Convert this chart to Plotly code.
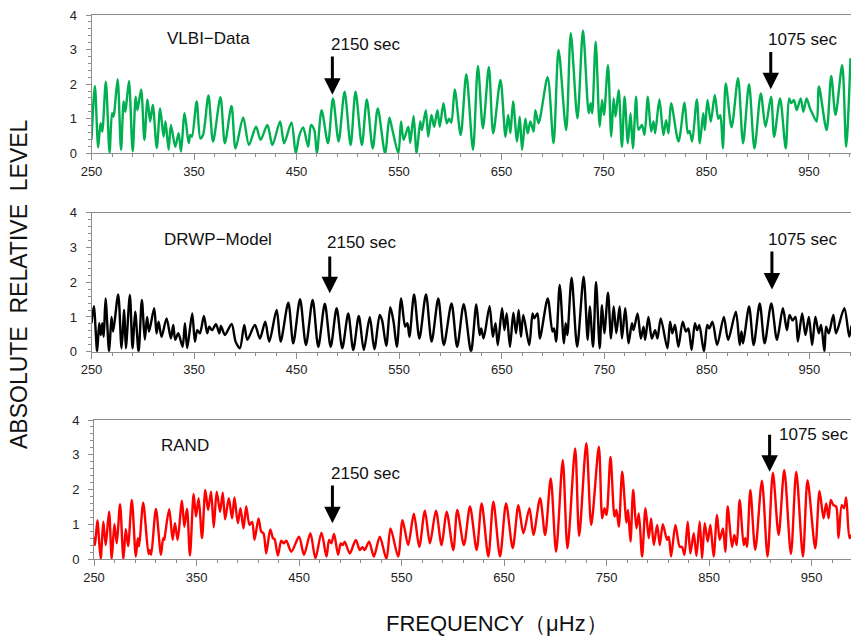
import plotly.graph_objects as go

# ---------------- data ----------------
vlbi_f = [250, 253.3, 256.5, 258.8, 260.5, 264.0, 267.6, 270.0, 271.2, 272.2, 275.5, 278.8, 281.4, 283.0, 284.3,
          286.6, 290.2, 293.1, 294.8, 298.4, 301.6, 304.6, 307.2, 309.8, 313.7, 317.0, 320.3, 322.2, 325.2, 327.5,
          331.7, 335.0, 337.3, 340.8, 344.8, 346.4, 348.0, 352.6, 356.2, 358.8, 364.1, 368.6, 375.8, 380.1, 386.6,
          390.5, 398.0, 403.6, 410.5, 415.0, 421.6, 426.5, 434.0, 437.9, 445.1, 449.3, 452.6, 456.5, 461.4, 464.1,
          467.3, 469.9, 474.5, 480.7, 485.6, 491.1, 496.9, 502.8, 507.6, 513.8, 518.6, 524.4, 529.3, 536.4, 540.6,
          542.9, 549.4, 552.0, 554.5, 559.1, 561.0, 564.2, 567.2, 570.7, 572.3, 576.2, 578.5, 581.7, 584.3, 587.5,
          589.8, 593.4, 596.6, 598.9, 601.1, 604.4, 610.2, 615.7, 622.2, 627.0, 631.9, 637.7, 641.9, 649.0, 653.9,
          656.5, 658.7, 661.3, 665.2, 667.8, 670.1, 673.3, 675.6, 678.2, 681.4, 683.0, 686.2, 695.0, 700.8, 705.7,
          713.1, 717.6, 724.1, 729.5, 735.1, 737.0, 738.5, 741.9, 745.8, 748.1, 750.0, 753.9, 757.1, 759.4, 761.3,
          764.3, 767.5, 770.1, 773.3, 775.9, 778.2, 781.4, 783.7, 787.0, 789.5, 792.8, 796.0, 798.3, 799.9, 804.1,
          808.0, 810.6, 812.9, 815.5, 822.7, 828.6, 831.8, 833.5, 836.0, 840.6, 843.5, 846.8, 848.4, 851.0, 854.2,
          858.1, 861.5, 863.5, 866.0, 868.8, 874.5, 880.8, 885.7, 891.5, 896.8, 903.0, 907.6, 913.0, 916.0, 921.8,
          927.3, 930.6, 932.8, 935.4, 938.0, 941.9, 944.5, 947.7, 951.0, 953.2, 957.5, 959.7, 967.2, 971.7, 975.9,
          982.4, 986.3, 990.5]
vlbi_v = [0.39, 1.95, 0.17, 0.87, 0.63, 2.07, 0.02, 1.16, 1.06, 1.18, 2.14, 0.10, 1.50, 1.20, 1.50,
          2.09, 0.05, 1.64, 1.25, 1.85, 0.39, 1.56, 0.92, 1.40, 0.15, 1.30, 0.48, 0.92, 0.10, 0.82,
          0.19, 0.58, 0.05, 1.16, 0.29, 0.53, 0.48, 1.50, 0.43, 0.53, 1.67, 0.34, 1.62, 0.29, 1.37,
          0.14, 1.04, 0.24, 0.77, 0.39, 0.82, 0.24, 0.92, 0.29, 0.89, 0.00, 0.50, 0.75, 0.19, 0.82,
          0.68, 0.00, 1.25, 0.29, 1.59, 0.34, 1.78, 0.24, 1.78, 0.24, 1.56, 0.14, 1.30, 0.00, 1.03,
          0.77, 0.00, 0.92, 0.39, 0.77, 0.30, 1.08, 0.00, 0.92, 0.67, 1.25, 0.48, 1.11, 0.77, 1.25,
          0.77, 1.45, 0.87, 1.00, 0.89, 1.85, 0.53, 2.29, 0.10, 2.53, 0.72, 2.50, 0.58, 2.12, 0.48,
          1.11, 0.58, 1.50, 0.34, 1.06, 0.10, 1.00, 0.58, 0.92, 0.63, 1.25, 0.87, 2.20, 0.29, 2.99,
          0.67, 3.47, 1.01, 3.55, 1.16, 1.45, 1.16, 3.23, 0.77, 1.54, 1.11, 2.55, 0.48, 1.59, 1.06,
          1.83, 0.19, 1.64, 0.29, 1.16, 0.14, 1.64, 0.68, 0.82, 0.53, 1.64, 0.63, 0.92, 0.58, 1.56,
          0.53, 0.96, 0.58, 1.45, 0.34, 1.46, 0.58, 0.65, 0.34, 1.56, 0.29, 1.16, 0.67, 1.54, 0.91,
          1.69, 1.00, 1.10, 0.14, 2.02, 0.75, 2.17, 0.29, 2.00, 0.14, 1.73, 0.77, 1.64, 0.48, 1.59,
          0.14, 1.59, 1.45, 1.54, 1.25, 1.59, 1.20, 1.59, 1.30, 1.16, 0.92, 1.93, 0.67, 2.24, 1.11,
          2.55, 0.19, 2.75]

drwp_f = [250, 252.3, 255.5, 257.5, 259.1, 260.5, 261.9, 263.7, 267.2, 269.5, 271.1, 276.0, 279.3, 281.9, 283.5,
          287.4, 290.0, 292.6, 295.9, 299.1, 302.0, 304.2, 306.1, 311.1, 313.4, 315.4, 318.3, 323.2, 327.4, 329.7,
          331.6, 334.6, 338.8, 341.1, 343.3, 348.2, 350.8, 353.1, 355.7, 359.6, 362.8, 364.8, 367.5, 371.3, 374.6,
          376.2, 380.1, 386.6, 390.5, 394.7, 398.9, 401.9, 409.3, 414.2, 419.4, 423.3, 430.5, 434.4, 441.9, 446.7,
          453.3, 459.1, 465.6, 471.1, 477.5, 483.2, 489.0, 494.5, 500.3, 505.2, 510.6, 515.5, 521.3, 525.8, 531.0,
          533.3, 537.4, 541.3, 544.5, 547.7, 551.9, 555.8, 558.0, 560.0, 564.5, 569.7, 576.1, 581.6, 588.1, 593.5,
          601.0, 606.5, 612.9, 620.0, 625.2, 628.4, 630.0, 632.3, 638.1, 641.3, 643.9, 646.1, 650.3, 652.6, 654.8,
          658.0, 661.3, 663.9, 666.5, 668.7, 671.0, 676.8, 680.0, 681.6, 684.8, 687.1, 694.8, 699.4, 701.0, 703.0,
          706.5, 710.6, 712.3, 713.9, 718.1, 723.5, 729.8, 733.8, 735.8, 739.0, 741.9, 745.5, 747.7, 750.0, 753.6,
          756.5, 759.1, 761.7, 764.9, 767.2, 770.4, 773.6, 776.9, 778.5, 782.4, 785.6, 788.2, 789.8, 793.0, 796.3,
          799.5, 801.8, 805.0, 811.5, 814.1, 816.3, 818.9, 822.2, 826.4, 829.6, 831.9, 835.1, 838.3, 840.5, 842.6,
          847.1, 850.3, 852.2, 855.5, 860.0, 866.5, 870.7, 878.2, 882.0, 883.7, 885.3, 891.1, 895.6, 901.5, 906.3,
          912.8, 918.3, 924.1, 928.0, 930.6, 933.5, 936.4, 938.7, 942.9, 946.1, 949.4, 952.6, 955.8, 959.1, 961.3,
          964.6, 966.2, 968.8, 973.3, 975.9, 984.0, 988.8, 991.0]
drwp_v = [0.82, 1.31, 0.00, 0.82, 0.48, 0.82, 0.43, 1.53, 0.00, 1.00, 0.58, 1.65, 0.10, 1.20, 0.10,
          1.63, 0.10, 1.15, 0.00, 1.49, 0.35, 1.00, 0.58, 1.25, 0.53, 0.86, 0.43, 0.96, 0.38, 0.77,
          0.34, 0.53, 0.14, 0.82, 0.10, 1.10, 0.29, 0.62, 0.53, 1.03, 0.53, 0.72, 0.62, 0.79, 0.53,
          0.74, 0.48, 0.80, 0.29, 0.10, 0.77, 0.34, 0.77, 0.38, 0.86, 0.29, 1.20, 0.29, 1.41, 0.24,
          1.51, 0.19, 1.49, 0.14, 1.38, 0.14, 1.25, 0.10, 1.10, 0.05, 1.03, 0.05, 0.99, 0.07, 1.06,
          0.91, 0.17, 1.28, 0.86, 0.14, 1.53, 0.72, 0.82, 0.43, 1.65, 0.38, 1.65, 0.29, 1.53, 0.19,
          1.39, 0.14, 1.37, 0.00, 1.36, 0.48, 0.67, 0.38, 1.31, 0.43, 0.82, 0.19, 1.25, 0.62, 1.10,
          0.14, 1.12, 0.53, 1.20, 0.43, 1.06, 0.19, 1.10, 0.96, 1.10, 0.38, 1.53, 0.58, 0.67, 0.29,
          1.92, 0.24, 0.82, 0.48, 2.13, 0.14, 2.16, 0.34, 1.30, 0.14, 2.01, 0.10, 1.34, 0.53, 1.70,
          0.38, 1.30, 0.53, 1.30, 0.38, 1.25, 0.24, 0.82, 0.62, 1.10, 0.38, 0.72, 0.34, 1.00, 0.38,
          0.62, 0.38, 0.96, 0.10, 0.86, 0.53, 0.77, 0.14, 0.86, 0.58, 0.67, 0.05, 0.82, 0.62, 0.77,
          0.00, 0.77, 0.67, 0.86, 0.19, 1.00, 0.34, 1.15, 0.19, 0.58, 0.24, 1.30, 0.19, 1.39, 0.24,
          1.39, 0.34, 1.25, 0.62, 1.06, 0.90, 1.00, 0.29, 1.10, 0.48, 1.00, 0.19, 1.00, 0.53, 0.77,
          0.00, 0.72, 0.53, 1.06, 0.53, 1.25, 0.43, 0.75]

rand_f = [250, 251.0, 253.3, 256.5, 259.1, 261.4, 264.7, 267.3, 269.9, 272.2, 275.4, 278.7, 281.0, 283.3, 286.9,
          290.8, 292.7, 294.0, 298.0, 303.2, 304.5, 305.8, 310.4, 315.3, 317.5, 318.5, 319.5, 323.4, 326.7, 329.0,
          331.6, 335.8, 338.1, 340.7, 343.6, 347.2, 349.5, 352.1, 355.4, 358.6, 361.3, 364.2, 366.8, 369.7, 373.0,
          375.6, 377.9, 381.5, 384.7, 387.0, 390.3, 392.9, 395.8, 398.5, 401.7, 404.3, 406.6, 410.5, 413.1, 415.4,
          418.0, 421.9, 424.6, 426.2, 429.4, 432.7, 435.0, 437.6, 442.5, 450.0, 454.9, 461.1, 466.0, 471.9, 476.8,
          479.3, 481.5, 484.2, 488.1, 490.7, 492.5, 494.6, 499.5, 505.4, 509.3, 511.9, 514.0, 518.4, 523.0, 528.8,
          535.3, 539.3, 546.7, 551.0, 556.5, 562.0, 567.3, 572.8, 577.7, 583.6, 589.1, 594.0, 600.5, 604.4, 610.9,
          616.8, 623.3, 628.2, 634.7, 639.6, 646.1, 652.0, 658.5, 664.0, 668.9, 674.8, 678.7, 685.2, 690.1, 695.6,
          700.8, 707.3, 711.9, 719.4, 723.3, 730.3, 735.1, 742.5, 745.8, 748.0, 750.0, 753.9, 757.8, 759.7, 762.0,
          765.3, 769.5, 771.0, 773.4, 776.0, 779.2, 781.5, 784.7, 788.0, 791.2, 793.5, 796.1, 799.4, 802.0, 804.9,
          809.1, 810.7, 813.0, 817.2, 821.4, 823.6, 826.0, 829.2, 831.8, 835.1, 837.7, 840.9, 843.2, 845.8, 848.7,
          851.3, 854.5, 857.8, 860.4, 863.6, 865.9, 868.2, 872.4, 874.7, 877.0, 879.9, 883.8, 885.4, 887.0, 890.3,
          895.1, 901.6, 907.1, 912.3, 917.9, 923.4, 929.9, 935.1, 941.6, 946.1, 953.6, 957.8, 961.7, 964.3, 966.6,
          968.8, 971.4, 974.0, 976.3, 979.5, 981.7, 983.8, 987.0, 989.0]
rand_v = [0.64, 0.40, 1.12, 0.00, 1.07, 0.40, 1.36, 0.00, 1.00, 0.45, 1.58, 0.00, 0.86, 0.37, 1.70,
          0.07, 0.60, 0.36, 1.62, 0.14, 0.26, 0.12, 1.44, 0.12, 0.60, 0.55, 0.74, 1.43, 0.55, 1.03,
          0.55, 1.68, 0.93, 1.44, 0.10, 1.87, 1.22, 1.75, 0.60, 1.99, 1.41, 1.94, 0.91, 1.94, 1.36,
          1.91, 1.14, 1.75, 1.17, 1.77, 1.03, 1.46, 0.88, 1.51, 0.98, 1.07, 0.55, 1.17, 0.79, 0.74,
          0.16, 0.85, 0.60, 0.57, 0.10, 0.53, 0.45, 0.53, 0.21, 0.64, 0.12, 0.74, 0.02, 0.76, 0.07,
          0.55, 0.45, 0.72, 0.12, 0.45, 0.40, 0.50, 0.16, 0.55, 0.26, 0.34, 0.26, 0.50, 0.07, 0.64,
          0.00, 0.88, 0.07, 1.12, 0.40, 1.30, 0.35, 1.39, 0.45, 1.39, 0.40, 1.36, 0.26, 1.41, 0.40,
          1.51, 0.26, 1.60, 0.07, 1.65, 0.07, 1.60, 0.31, 1.55, 0.74, 1.46, 0.69, 1.75, 0.69, 2.32,
          0.21, 2.85, 0.31, 3.18, 0.66, 3.33, 0.98, 3.23, 1.17, 1.46, 1.27, 2.94, 1.22, 1.41, 0.93,
          2.51, 1.05, 1.41, 0.50, 1.99, 0.88, 1.31, 0.07, 1.46, 0.60, 1.17, 0.40, 0.98, 0.40, 1.00,
          0.55, 0.64, 0.07, 0.98, 0.35, 0.35, 0.12, 1.07, 0.16, 0.74, 0.09, 1.07, 0.02, 1.03, 0.50,
          0.98, 0.07, 1.27, 0.55, 0.88, 0.21, 1.51, 0.35, 0.69, 0.40, 1.70, 0.40, 0.60, 0.35, 1.99,
          0.26, 2.25, 0.07, 2.48, 0.69, 2.56, 0.14, 2.51, 0.07, 2.27, 0.31, 1.96, 1.17, 1.60, 1.17,
          1.70, 1.55, 1.51, 0.60, 1.55, 1.46, 1.77, 0.60, 0.70]

x_tickvals = [250, 350, 450, 550, 650, 750, 850, 950]
y_tickvals = [0, 1, 2, 3, 4]

panel_names = ["VLBI−Data", "DRWP−Model", "RAND"]
period_labels = ["2150 sec", "1075 sec"]

# ---------------- figure ----------------
W, H = 851, 638
FONT = "Liberation Sans, Arial, sans-serif"
AX = "#8c8c8c"

fig = go.Figure()

series = [(vlbi_f, vlbi_v, "#00B050"), (drwp_f, drwp_v, "#000000"), (rand_f, rand_v, "#FF0000")]

# pixel geometry of each panel: (left px, x upper, y0 px, y4 px)
geom = [(91.5, 991.0, 153.3, 15.0), (91.5, 990.5, 351.7, 212.7), (94.0, 988.5, 559.0, 420.0)]

layout = dict(width=W, height=H, margin=dict(l=0, r=0, t=0, b=0, autoexpand=False),
              paper_bgcolor="white", plot_bgcolor="white", showlegend=False,
              font=dict(family=FONT, color="#222"))

for i, ((f, v, col), (lpx, xmax, y0px, y4px)) in enumerate(zip(series, geom)):
    n = "" if i == 0 else str(i + 1)
    fig.add_trace(go.Scatter(x=f, y=v, mode="lines", xaxis="x" + n, yaxis="y" + n,
                             line=dict(color=col, width=2.4, shape="spline", smoothing=0.8),
                             hoverinfo="skip"))
    layout["xaxis" + n] = dict(domain=[lpx / W, 1.0], range=[250, xmax], anchor="y" + n,
                               automargin=False,
                               tickvals=x_tickvals, ticks="outside", ticklen=6, tickcolor=AX,
                               minor=dict(dtick=20, tick0=250, ticks="outside", ticklen=3, tickcolor=AX),
                               showline=True, linecolor=AX, linewidth=1, mirror=True,
                               showgrid=False, zeroline=False,
                               tickfont=dict(size=13, color="#222", family=FONT))
    layout["yaxis" + n] = dict(domain=[1 - y0px / H, 1 - y4px / H], range=[0, 4], anchor="x" + n,
                               automargin=False,
                               tickvals=y_tickvals, ticks="outside", ticklen=5, tickcolor=AX,
                               minor=dict(dtick=0.2, ticks="outside", ticklen=3, tickcolor=AX),
                               showline=True, linecolor=AX, linewidth=1,
                               showgrid=False, zeroline=False, ticklabelstandoff=6,
                               tickfont=dict(size=13, color="#222", family=FONT))

fig.update_layout(**layout)

ann = []
# panel titles
title_pos = [(321.9, 3.33), (318.3, 3.24), (313.6, 3.28)]
for i, (name, (tx, ty)) in enumerate(zip(panel_names, title_pos)):
    n = "" if i == 0 else str(i + 1)
    ann.append(dict(x=tx, y=ty, xref="x" + n, yref="y" + n, text=name, showarrow=False,
                    xanchor="left", yanchor="middle", font=dict(size=17, color="#111", family=FONT)))

# period labels and arrows: (label x, label y, arrow x, arrow top, arrow tip)
marks = [
    [(481.5, 3.16, 485.0, 2.84, 1.69), (907.9, 3.28, 912.7, 2.97, 1.85)],
    [(478.0, 3.13, 482.3, 2.78, 1.68), (907.9, 3.24, 913.4, 2.93, 1.79)],
    [(479.3, 2.47, 482.6, 2.16, 1.03), (916.2, 3.59, 909.1, 3.62, 2.51)],
]
for i, pm in enumerate(marks):
    n = "" if i == 0 else str(i + 1)
    for lab, (lx, ly, axp, atop, atip) in zip(period_labels, pm):
        ann.append(dict(x=lx, y=ly, xref="x" + n, yref="y" + n, text=lab, showarrow=False,
                        xanchor="left", yanchor="middle", font=dict(size=17, color="#111", family=FONT)))
        ann.append(dict(x=axp, y=atip, ax=axp, ay=atop, xref="x" + n, yref="y" + n,
                        axref="x" + n, ayref="y" + n, text="", showarrow=True,
                        arrowhead=2, arrowsize=1.1, arrowwidth=3, arrowcolor="#000"))

ann.append(dict(x=19 / W, y=1 - 284 / H, xref="paper", yref="paper", text="ABSOLUTE  RELATIVE  LEVEL",
                textangle=-90, showarrow=False, xanchor="center", yanchor="middle",
                font=dict(size=23, color="#111", family=FONT)))
ann.append(dict(x=497 / W, y=1 - 623 / H, xref="paper", yref="paper", text="FREQUENCY（μHz）",
                showarrow=False, xanchor="center", yanchor="middle",
                font=dict(size=22, color="#111", family=FONT)))
fig.update_layout(annotations=ann)

fig.write_html("out.html")
